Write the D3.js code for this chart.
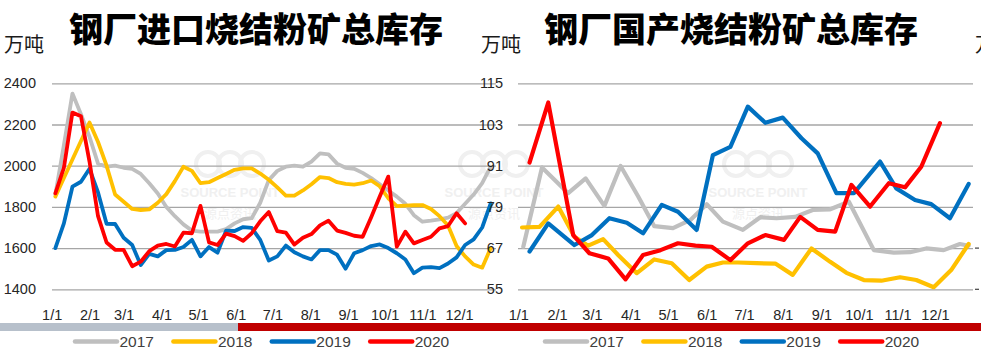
<!DOCTYPE html>
<html><head><meta charset="utf-8">
<script src="https://cdn.jsdelivr.net/npm/d3@7"></script>
<style>
html,body{margin:0;padding:0;background:#fff;}
svg{display:block;}
</style></head><body>
<svg id="c" width="981" height="352"></svg>
<script>
// ---------- data ----------
const years = ["2017", "2018", "2019", "2020"];
const colors = ["#bfbfbf", "#ffc000", "#0070c0", "#ff0000"];
const monthLabels = ["1/1","2/1","3/1","4/1","5/1","6/1","7/1","8/1","9/1","10/1","11/1","12/1"];
const monthDays = [0,31,59,90,120,151,181,212,243,273,304,334];
const unitLabel = "万吨";
const titleImport = "钢厂进口烧结粉矿总库存";
const titleDomestic = "钢厂国产烧结粉矿总库存";
const impTicks = [1400, 1600, 1800, 2000, 2200, 2400];
const domTicks = [55, 67, 79, 91, 103, 115];

// left panel: weekly observations (day of year)
const impDays = d3.range(53).map(i => 3 + 7 * i);
const imp2017 = [1860,2100,2350,2250,2140,2010,1995,2000,1990,1985,1960,1915,1865,1800,1755,1715,1685,1680,1680,1680,1692,1720,1740,1745,1820,1930,1975,1995,2000,1995,2020,2060,2055,2010,1990,1985,1965,1940,1910,1880,1850,1815,1760,1728,1733,1740,1748,1770,1815,1860,1915,1995];
const imp2018 = [1850,1940,2030,2120,2210,2115,2000,1860,1825,1790,1785,1788,1820,1862,1925,1995,1975,1915,1920,1940,1960,1980,1987,1987,1962,1932,1895,1855,1855,1880,1910,1945,1940,1920,1912,1908,1915,1928,1900,1842,1804,1806,1808,1809,1790,1755,1710,1610,1560,1520,1505,1600];
const imp2019 = [1600,1720,1898,1922,1985,1870,1718,1717,1650,1615,1518,1572,1560,1590,1591,1605,1640,1560,1605,1578,1685,1683,1702,1698,1640,1540,1560,1612,1580,1560,1545,1590,1590,1568,1500,1575,1590,1610,1618,1600,1575,1545,1478,1505,1508,1503,1525,1555,1615,1642,1700,1817];
const imp2020 = [1866,1990,2258,2240,2020,1755,1627,1592,1591,1512,1534,1585,1612,1620,1608,1675,1672,1805,1628,1615,1670,1658,1635,1672,1730,1775,1682,1675,1617,1650,1668,1710,1733,1685,1674,1660,1655,1750,1850,1947,1607,1680,1623,1639,1655,1696,1707,1769,1720];

// right panel: roughly biweekly observations (day of year)
const dom2017Days = [4,19,40,54,69,82,96,109,124,138,151,164,180,194,207,222,236,250,265,285,301,314,327,341,354,361];
const dom2017 = [67.4,90.5,83.0,87.3,79.3,90.9,82.1,73.4,72.8,75.2,79.8,74.7,72.3,76.0,75.7,76.1,78.1,78.3,80.5,66.4,65.7,65.8,66.9,66.4,68.2,67.7];
const dom2018Days = [3,17,32,45,56,68,80,95,109,123,137,151,164,176,191,206,220,235,250,263,277,291,306,319,333,347,361];
const dom2018 = [73.0,73.2,79.1,70.3,67.7,69.6,65.0,59.7,63.7,62.6,57.7,61.6,62.8,62.8,62.6,62.5,59.2,66.9,63.0,59.8,57.7,57.5,58.5,57.7,55.6,60.6,68.2];
const dom2019Days = [9,24,45,59,73,87,100,115,128,143,156,170,184,198,212,227,240,255,269,290,303,318,331,346,361];
const dom2019 = [66.0,74.2,67.9,70.8,75.7,74.4,71.3,79.6,77.6,72.3,94.1,96.5,108.2,103.5,105.0,99.0,94.6,83.0,83.0,92.2,84.4,81.0,79.8,75.7,85.7];
const dom2020Days = [9,24,44,57,72,86,100,114,128,142,155,170,184,198,213,226,240,254,267,282,297,310,323,338];
const dom2020 = [91.9,109.4,70.8,65.5,64.0,57.9,65.0,66.4,68.4,67.7,67.4,63.5,68.4,70.8,69.4,76.1,72.3,71.8,85.4,79.1,85.9,84.7,90.7,103.4];

// ---------- drawing ----------
const svg = d3.select("#c");
const numFont = "'Liberation Sans', Arial, sans-serif";
const cjkFont = "'Noto Sans CJK SC', 'Noto Sans', sans-serif";

// faint watermarks
const wm = svg.append("g");
[230, 494, 758].forEach(cx => {
  const g = wm.append("g").attr("transform", `translate(${cx},0)`);
  [-22, 0, 22].forEach(dx => g.append("circle").attr("cx", dx).attr("cy", 164).attr("r", 12)
    .attr("fill", "none").attr("stroke", "#f0f0f0").attr("stroke-width", 4));
  g.append("text").attr("x", 0).attr("y", 197).attr("text-anchor", "middle")
    .attr("font-family", numFont).attr("font-weight", "bold").attr("font-size", 13)
    .attr("fill", "#f0f0f0").text("SOURCE POINT");
  g.append("text").attr("x", 0).attr("y", 218).attr("text-anchor", "middle")
    .attr("font-family", cjkFont).attr("font-size", 13)
    .attr("fill", "#f0f0f0").text("源点资讯");
});

function drawPanel(cfg) {
  const x = d3.scaleLinear().domain([0, 364]).range(cfg.xRange);
  const y = d3.scaleLinear().domain([cfg.ticks[0], cfg.ticks[cfg.ticks.length - 1]]).range([289.3, 83.3]);
  const g = svg.append("g");

  // gridlines
  const grid = g.append("g").attr("transform", `translate(${cfg.gridX[0]},0)`)
    .call(d3.axisLeft(y).tickValues(cfg.ticks).tickSize(-(cfg.gridX[1] - cfg.gridX[0])).tickFormat(""));
  grid.select(".domain").remove();
  grid.selectAll("line").attr("stroke", "#a6a6a6").attr("stroke-width", 1.3);

  // lines
  const line = d3.line().x(d => x(d[0])).y(d => y(d[1]));
  cfg.series.forEach((s, k) => {
    g.append("path").datum(d3.zip(s.days, s.values))
      .attr("d", line).attr("fill", "none").attr("stroke", colors[k])
      .attr("stroke-width", cfg.lw).attr("stroke-linejoin", "round").attr("stroke-linecap", "round");
  });

  // y labels
  const ya = g.append("g").attr("transform", `translate(${cfg.yLabelX},0)`)
    .call(d3.axisLeft(y).tickValues(cfg.ticks).tickSize(0).tickPadding(0).tickFormat(d3.format("d")));
  ya.select(".domain").remove();
  ya.selectAll("text").attr("font-family", numFont).attr("font-size", 14.5).attr("fill", "#262626");

  // x labels
  const xa = g.append("g").attr("transform", "translate(0,309.5)")
    .call(d3.axisBottom(x).tickValues(monthDays).tickFormat((d, i) => monthLabels[i]).tickSize(0).tickPadding(0));
  xa.select(".domain").remove();
  xa.selectAll("text").attr("font-family", numFont).attr("font-size", 14.5).attr("fill", "#262626");

  // unit & title
  g.append("text").attr("x", cfg.unitX).attr("y", 52).attr("font-family", cjkFont)
    .attr("font-size", 20).attr("fill", "#1a1a1a").text(unitLabel);
  g.append("text").attr("x", cfg.titleX).attr("y", 42).attr("text-anchor", "middle")
    .attr("font-family", cjkFont).attr("font-weight", "900").attr("font-size", 34)
    .attr("fill", "#000").text(cfg.title);

  // legend
  const lg = g.append("g");
  years.forEach((yr, k) => {
    const lx = cfg.legendX + k * 98.4;
    lg.append("line").attr("x1", lx).attr("x2", lx + 42).attr("y1", 341.5).attr("y2", 341.5)
      .attr("stroke", colors[k]).attr("stroke-width", 4.5).attr("stroke-linecap", "round");
    lg.append("text").attr("x", lx + 44.5).attr("y", 341.5).attr("dy", "0.36em")
      .attr("font-family", numFont).attr("font-size", 15.5).attr("fill", "#404040").text(yr);
  });
}

// bottom bands
svg.append("rect").attr("x", 0).attr("y", 323).attr("width", 238).attr("height", 8).attr("fill", "#b7c0cb");
svg.append("rect").attr("x", 238).attr("y", 323).attr("width", 743).attr("height", 8).attr("fill", "#c00000");

drawPanel({
  xRange: [51.7, 495.6], gridX: [52, 496], yLabelX: 36, ticks: impTicks, lw: 3.8,
  unitX: 4, titleX: 256, title: titleImport, legendX: 75,
  series: [
    {days: impDays.slice(0, imp2017.length), values: imp2017},
    {days: impDays.slice(0, imp2018.length), values: imp2018},
    {days: impDays.slice(0, imp2019.length), values: imp2019},
    {days: impDays.slice(0, imp2020.length), values: imp2020}
  ]
});

drawPanel({
  xRange: [518.3, 972.4], gridX: [518, 973], yLabelX: 503, ticks: domTicks, lw: 4.2,
  unitX: 481, titleX: 731, title: titleDomestic, legendX: 545,
  series: [
    {days: dom2017Days, values: dom2017},
    {days: dom2018Days, values: dom2018},
    {days: dom2019Days, values: dom2019},
    {days: dom2020Days, values: dom2020}
  ]
});

// cut-off elements of the next chart on the right edge
svg.append("text").attr("x", 975).attr("y", 52).attr("font-family", cjkFont)
  .attr("font-size", 20).attr("fill", "#1a1a1a").text(unitLabel);
const yEdge = d3.scaleLinear().domain([55, 115]).range([289.3, 83.3]);
[55, 67].forEach(v => svg.append("line").attr("x1", 975).attr("x2", 979)
  .attr("y1", yEdge(v)).attr("y2", yEdge(v)).attr("stroke", "#404040").attr("stroke-width", 1.2));
</script>
</body></html>
